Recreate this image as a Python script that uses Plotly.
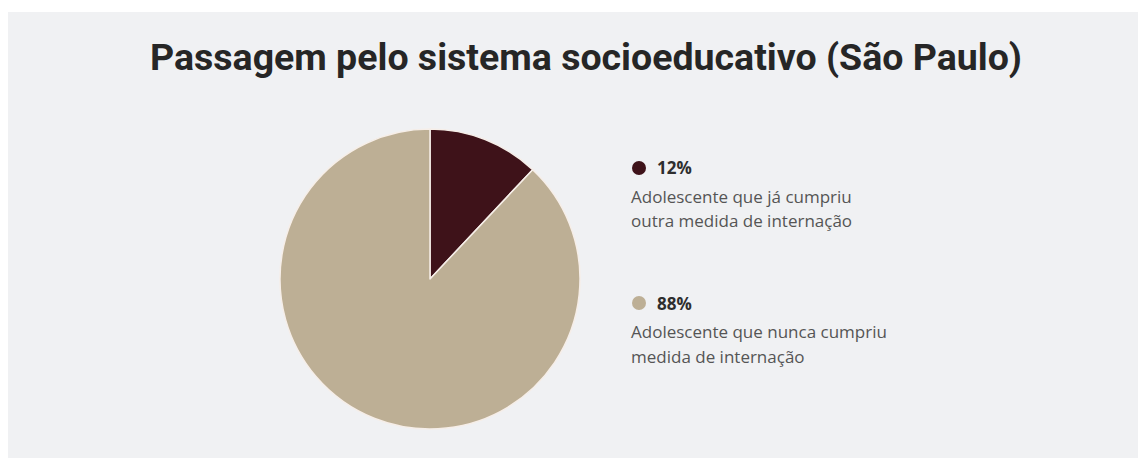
import plotly.graph_objects as go

# Dados do gráfico
categorias = [
    "Adolescente que já cumpriu outra medida de internação",
    "Adolescente que nunca cumpriu medida de internação",
]
percentuais = [12, 88]
linhas_legenda = [
    ["Adolescente que já cumpriu", "outra medida de internação"],
    ["Adolescente que nunca cumpriu", "medida de internação"],
]
cores = ["#3e1219", "#bdaf95"]

W, H = 1138, 458
BG = "#f0f1f3"


def px(x):
    return x / W


def py(y):
    return 1 - y / H


fig = go.Figure()

fig.add_trace(go.Pie(
    labels=categorias,
    values=percentuais,
    sort=False,
    direction="clockwise",
    rotation=0,
    marker=dict(colors=cores, line=dict(color="#f6eee8", width=1.5)),
    textinfo="none",
    hoverinfo="label+percent",
    showlegend=False,
    domain=dict(x=[px(280), px(580)], y=[py(429), py(129)]),
))

# painel de fundo
shapes = [dict(type="rect", xref="paper", yref="paper",
               x0=px(8), x1=1, y0=0, y1=py(12),
               fillcolor=BG, line=dict(width=0), layer="below")]

annotations = [dict(
    text="<b>Passagem pelo sistema socioeducativo (São Paulo)</b>",
    xref="paper", yref="paper", x=px(148), y=py(57),
    xanchor="left", yanchor="middle", showarrow=False,
    font=dict(family="Roboto, sans-serif", size=37.5, color="#262626"),
)]

topos = [168, 303]
for cor, pct, linhas, y0 in zip(cores, percentuais, linhas_legenda, topos):
    shapes.append(dict(type="circle", xref="paper", yref="paper",
                       x0=px(639 - 7), x1=px(639 + 7), y0=py(y0 + 7), y1=py(y0 - 7),
                       fillcolor=cor, line=dict(width=0)))
    annotations.append(dict(
        text=f"<b>{pct}%</b>", xref="paper", yref="paper",
        x=px(655), y=py(y0), xanchor="left", yanchor="middle", showarrow=False,
        font=dict(family="Open Sans, sans-serif", size=17, color="#2e2e2e"),
    ))
    for i, linha in enumerate(linhas):
        annotations.append(dict(
            text=linha, xref="paper", yref="paper",
            x=px(629), y=py(y0 + 28 + 25 * i), xanchor="left", yanchor="middle",
            showarrow=False,
            font=dict(family="Open Sans, sans-serif", size=17, color="#555555"),
        ))

fig.update_layout(
    width=W, height=H,
    margin=dict(l=0, r=0, t=0, b=0),
    paper_bgcolor="white",
    plot_bgcolor="white",
    shapes=shapes,
    annotations=annotations,
)

fig.write_html("out.html")
